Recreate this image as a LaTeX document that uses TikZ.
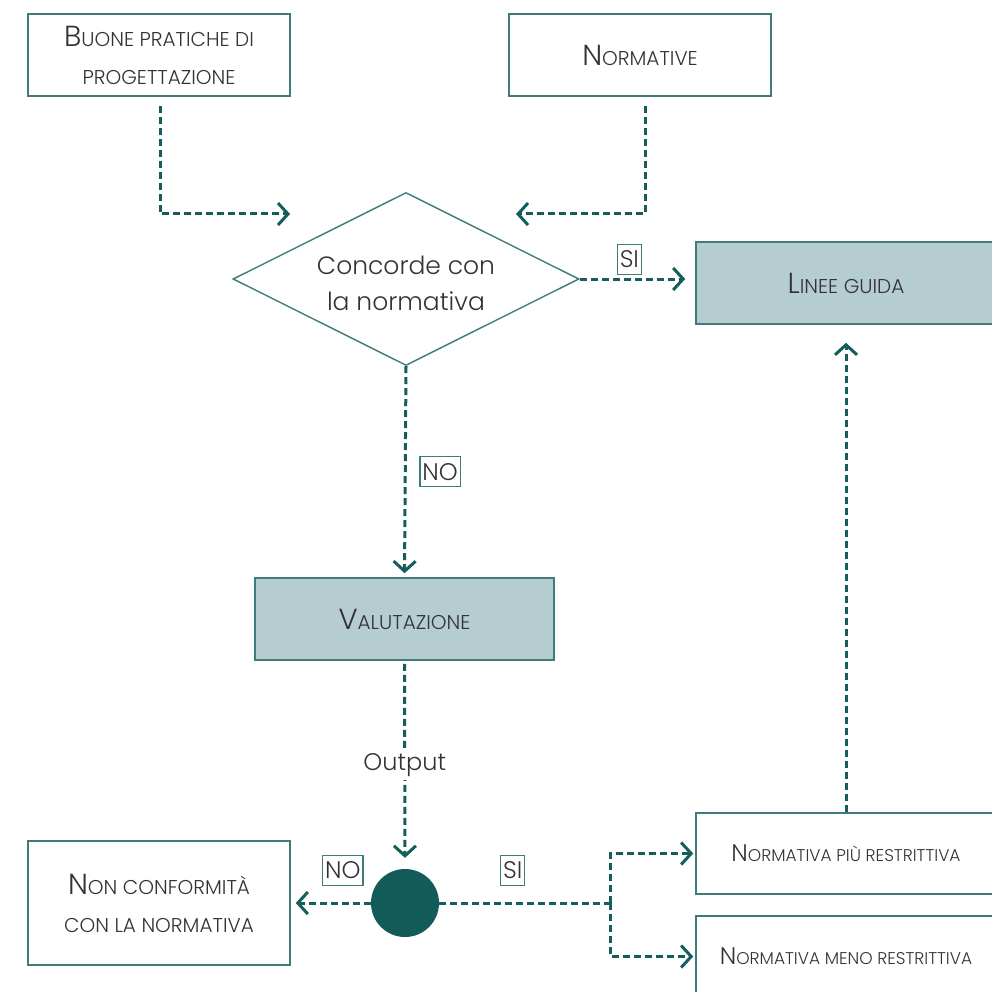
\documentclass[tikz,border=0pt]{standalone}
\usepackage{fontspec}
\IfFontExistsTF{Poppins Light}{\setmainfont{Poppins Light}}{\setmainfont{Poppins}}
\usetikzlibrary{arrows.meta,shapes.geometric}
\definecolor{flowline}{HTML}{155E5C}
\definecolor{boxline}{HTML}{3D7C7A}
\definecolor{boxfill}{HTML}{B5CDD1}
\definecolor{dotfill}{HTML}{135B59}
\definecolor{ink}{HTML}{333333}
% fake small caps: a large initial followed by smaller capitals
\newcommand\scInit[1]{{\fontsize{29}{38}\selectfont #1}}
\newcommand\scRest[1]{{\fontsize{20}{38}\selectfont #1}}
\newcommand\scInitS[1]{{\fontsize{24}{38}\selectfont #1}}
\newcommand\scRestS[1]{{\fontsize{17}{38}\selectfont #1}}
\begin{document}
\begin{tikzpicture}[x=1pt,y=-1pt,
  every node/.style={text=ink},
  box/.style={draw=boxline,line width=1.6pt,minimum width=262pt,minimum height=82pt,
    inner sep=0pt,align=center,font=\fontsize{20}{38}\selectfont},
  keybox/.style={box,fill=boxfill,minimum width=300pt},
  flow/.style={draw=flowline,line width=3pt,dash pattern=on 7pt off 4pt,
    -{Straight Barb[length=10pt,width=22pt,line width=3pt]}},
  tag/.style={draw=boxline,solid,line width=1.4pt,inner xsep=2.5pt,inner ysep=2pt,fill=white,
    font=\fontsize{24}{26}\selectfont,minimum height=30pt}
]
\useasboundingbox (0,0) rectangle (992,992);

% boxes
\node[box] (buone) at (159,55) {\scInit{B}\scRest{UONE PRATICHE DI}\\\scRest{PROGETTAZIONE}};
\node[box] (norm) at (640,55) {\scInit{N}\scRest{ORMATIVE}};
\node[diamond,draw=boxline,line width=1.4pt,minimum width=346pt,minimum height=173pt,inner sep=0pt]
  (dec) at (406,279) {};
\node[align=center,font=\fontsize{25}{36}\selectfont] (dectext) at (406,283) {Concorde con\\la normativa};
\node[keybox] (linee) at (846,283) {\scInit{L}\scRest{INEE GUIDA}};
\node[keybox,minimum width=299pt] (valut) at (404.5,619) {\scInit{V}\scRest{ALUTAZIONE}};
\node[circle,fill=dotfill,minimum size=68pt,inner sep=0pt] (dot) at (405,903) {};
\node[box,minimum height=124pt] (nonconf) at (159,903) {\scInit{N}\scRest{ON CONFORMITÀ}\\\scRest{CON LA NORMATIVA}};
\node[box,minimum width=300pt,minimum height=81pt] (piu) at (846,853.5) {\scInitS{N}\scRestS{ORMATIVA PIÙ RESTRITTIVA}};
\node[box,minimum width=300pt,minimum height=81pt] (meno) at (846,956.5) {\scInitS{N}\scRestS{ORMATIVA MENO RESTRITTIVA}};

% free ends of the arrows that stop short of the decision
\coordinate (inL) at (290,214);
\coordinate (inR) at (516,214);
\coordinate (split) at (610,903);

% connectors
\draw[flow,shorten <=9pt] (buone.south) ++(1,0) |- (inL);
\draw[flow,shorten <=9pt] (norm.south) ++(5,0) |- (inR);
\draw[flow,shorten >=10pt] (dec.east) -- (dec.east -| linee.west)
  node[tag,pos=0.43,above=4pt] (si1) {SI};
\draw[flow,shorten >=4pt] (dec.south) -- (valut.north)
  node[tag,pos=0.5,right=14pt] (no1) {NO};
\draw[flow,shorten <=3pt,shorten >=11pt] (valut.south) -- (dot.north)
  node[pos=0.5,fill=white,inner sep=4pt,font=\fontsize{24}{30}\selectfont] (out) {Output};
\draw[flow,shorten >=5pt] (dot.west) -- (nonconf.east)
  node[tag,pos=0.35,above=17pt] (no2) {NO};
\draw[draw=flowline,line width=3pt,dash pattern=on 7pt off 4pt] (dot.east) -- (split)
  node[tag,pos=0.43,above=17pt] (si2) {SI};
\draw[flow,shorten >=2pt] (split) |- (piu.west);
\draw[flow,shorten >=2pt] (split) |- (meno.west -| piu.west);
\draw[flow,shorten >=18pt] (piu.north) -- (linee.south);
\end{tikzpicture}
\end{document}
